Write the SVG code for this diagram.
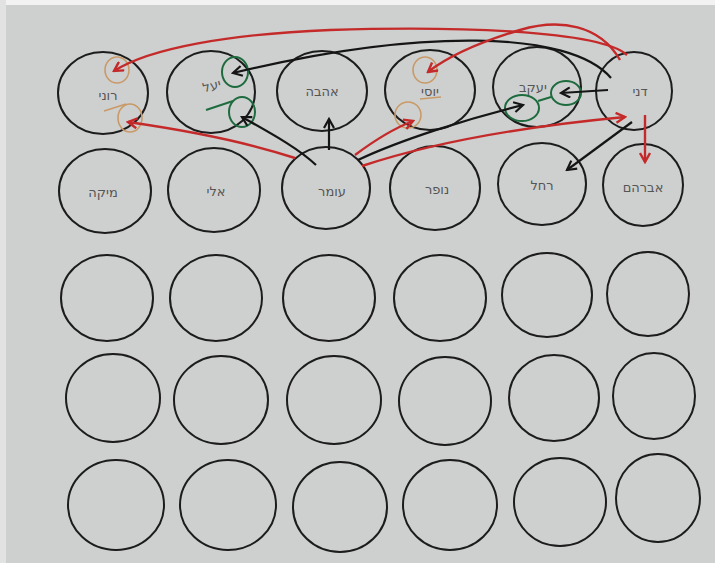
<svg xmlns="http://www.w3.org/2000/svg" width="715" height="563" viewBox="0 0 715 563">
<defs>
<style>
.n{fill:none;stroke:#1c1c1c;stroke-width:2}
.t{font-family:"DejaVu Sans",sans-serif;font-size:13px;fill:#555;text-anchor:middle}
.k{fill:none;stroke:#151515;stroke-width:2.2}
.r{fill:none;stroke:#c42a2a;stroke-width:2.4}
.g{fill:none;stroke:#1e6b3e;stroke-width:2}
.o{fill:none;stroke:#c99a68;stroke-width:1.6}
</style>
<marker id="ak" viewBox="0 0 12 12" refX="10" refY="6" markerWidth="12" markerHeight="12" markerUnits="userSpaceOnUse" orient="auto">
<path d="M1,1 L10,6 L1,11" fill="none" stroke="#151515" stroke-width="2.2"/>
</marker>
<marker id="ar" viewBox="0 0 12 12" refX="10" refY="6" markerWidth="12" markerHeight="12" markerUnits="userSpaceOnUse" orient="auto">
<path d="M1,1 L10,6 L1,11" fill="none" stroke="#c42a2a" stroke-width="2.4"/>
</marker>
</defs>
<rect width="715" height="563" fill="#ced0cf"/>
<rect width="715" height="5" fill="#f2f2f2"/>
<rect width="6" height="563" fill="#e2e2e2"/>

<g id="n-roni"><ellipse class="n" cx="103" cy="93" rx="45" ry="41"/><text class="t" x="108" y="100">רוני</text></g>
<g id="n-yael"><ellipse class="n" cx="211" cy="92" rx="44" ry="41"/><text class="t" x="213" y="90" transform="rotate(-15 213 90)">יעל</text></g>
<g id="n-ahava"><ellipse class="n" cx="322" cy="91" rx="45" ry="40"/><text class="t" x="322" y="96">אהבה</text></g>
<g id="n-yosi"><ellipse class="n" cx="430" cy="90" rx="45" ry="40"/><text class="t" x="430" y="96">יוסי</text></g>
<g id="n-yaakov"><ellipse class="n" cx="537" cy="87" rx="44" ry="40"/><text class="t" x="533" y="92">יעקב</text></g>
<g id="n-dani"><ellipse class="n" cx="634" cy="91" rx="38" ry="39"/><text class="t" x="640" y="96">דני</text></g>

<g id="n-mika"><ellipse class="n" cx="105" cy="191" rx="46" ry="42"/><text class="t" x="103" y="197">מיקה</text></g>
<g id="n-eli"><ellipse class="n" cx="214" cy="190" rx="46" ry="42"/><text class="t" x="216" y="196">אלי</text></g>
<g id="n-omer"><ellipse class="n" cx="326" cy="188" rx="44" ry="41"/><text class="t" x="332" y="196">עומר</text></g>
<g id="n-nofar"><ellipse class="n" cx="435" cy="188" rx="45" ry="42"/><text class="t" x="437" y="194">נופר</text></g>
<g id="n-rachel"><ellipse class="n" cx="542" cy="184" rx="44" ry="41"/><text class="t" x="542" y="190">רחל</text></g>
<g id="n-avraham"><ellipse class="n" cx="643" cy="185" rx="40" ry="41"/><text class="t" x="643" y="192">אברהם</text></g>

<g id="n-r3c1"><ellipse class="n" cx="107" cy="298" rx="46" ry="43"/></g>
<g id="n-r3c2"><ellipse class="n" cx="216" cy="298" rx="46" ry="43"/></g>
<g id="n-r3c3"><ellipse class="n" cx="329" cy="298" rx="46" ry="43"/></g>
<g id="n-r3c4"><ellipse class="n" cx="440" cy="298" rx="46" ry="43"/></g>
<g id="n-r3c5"><ellipse class="n" cx="547" cy="295" rx="45" ry="42"/></g>
<g id="n-r3c6"><ellipse class="n" cx="648" cy="294" rx="41" ry="42"/></g>

<g id="n-r4c1"><ellipse class="n" cx="113" cy="398" rx="47" ry="44"/></g>
<g id="n-r4c2"><ellipse class="n" cx="221" cy="400" rx="47" ry="44"/></g>
<g id="n-r4c3"><ellipse class="n" cx="334" cy="400" rx="47" ry="44"/></g>
<g id="n-r4c4"><ellipse class="n" cx="445" cy="401" rx="46" ry="44"/></g>
<g id="n-r4c5"><ellipse class="n" cx="554" cy="398" rx="45" ry="43"/></g>
<g id="n-r4c6"><ellipse class="n" cx="654" cy="396" rx="41" ry="43"/></g>

<g id="n-r5c1"><ellipse class="n" cx="116" cy="505" rx="48" ry="45"/></g>
<g id="n-r5c2"><ellipse class="n" cx="228" cy="505" rx="48" ry="45"/></g>
<g id="n-r5c3"><ellipse class="n" cx="340" cy="507" rx="47" ry="45"/></g>
<g id="n-r5c4"><ellipse class="n" cx="450" cy="505" rx="47" ry="45"/></g>
<g id="n-r5c5"><ellipse class="n" cx="560" cy="502" rx="46" ry="44"/></g>
<g id="n-r5c6"><ellipse class="n" cx="658" cy="498" rx="42" ry="44"/></g>

<g id="marks">
<ellipse class="o" cx="117" cy="70" rx="12" ry="13"/>
<ellipse class="o" cx="130" cy="118" rx="12" ry="14"/>
<path class="o" d="M104,111 L126,104"/>
<ellipse class="g" cx="235" cy="72" rx="13" ry="15"/>
<ellipse class="g" cx="242" cy="112" rx="13" ry="15"/>
<path class="g" d="M206,110 L233,101"/>
<ellipse class="o" cx="425" cy="70" rx="12" ry="13"/>
<ellipse class="o" cx="408" cy="115" rx="13" ry="13"/>
<path class="o" d="M420,99 L441,97"/>
<ellipse class="g" cx="522" cy="108" rx="17" ry="13"/>
<ellipse class="g" cx="566" cy="93" rx="15" ry="12"/>
<path class="g" d="M538,101 L551,97"/>
</g>

<g id="connectors">
<path class="k" d="M611,78 C570,30 420,28 233,73" marker-end="url(#ak)"/>
<path class="k" d="M608,90 L561,93" marker-end="url(#ak)"/>
<path class="k" d="M316,165 C298,148 272,134 242,117" marker-end="url(#ak)"/>
<path class="k" d="M329,150 L329,119" marker-end="url(#ak)"/>
<path class="k" d="M358,160 C400,140 470,118 523,105" marker-end="url(#ak)"/>
<path class="k" d="M632,122 L567,170" marker-end="url(#ak)"/>
<path class="r" d="M627,55 C600,30 450,26 330,30 C230,34 150,48 114,71" marker-end="url(#ar)"/>
<path class="r" d="M620,60 C600,25 560,18 520,30 C480,42 450,55 428,72" marker-end="url(#ar)"/>
<path class="r" d="M295,158 C240,140 170,128 128,122" marker-end="url(#ar)"/>
<path class="r" d="M355,155 C375,140 395,128 413,121" marker-end="url(#ar)"/>
<path class="r" d="M362,166 C440,140 540,125 625,117" marker-end="url(#ar)"/>
<path class="r" d="M645,115 L645,162" marker-end="url(#ar)"/>
</g>
</svg>
